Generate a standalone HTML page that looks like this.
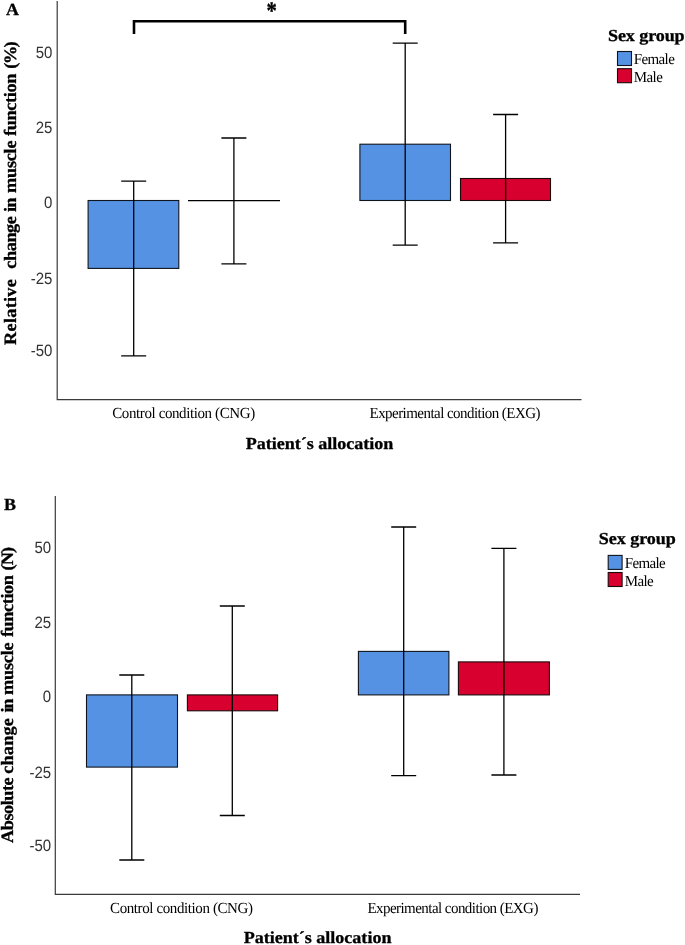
<!DOCTYPE html>
<html lang="en">
<head>
<meta charset="utf-8">
<title>Change in muscle function by allocation and sex group</title>
<style>
html,body{margin:0;padding:0;background:#fff;}
body{width:685px;height:945px;overflow:hidden;}
svg{display:block;}
text{text-rendering:geometricPrecision;}
.ser{font-family:"Liberation Serif",serif;fill:#000;}
.b{font-weight:bold;stroke:#000;stroke-width:0.3px;}
.tick{font-family:"Liberation Sans",sans-serif;font-size:15px;fill:#333;text-anchor:end;}
.ax{stroke:#3a3a3a;stroke-width:1.2;fill:none;}
.eb{stroke:#000;stroke-width:1.3;fill:none;}
.fb{fill:#5592e4;stroke:#10141c;stroke-width:1.1;}
.mb{fill:#d7002f;stroke:#1a0a0c;stroke-width:1.1;}
.br{stroke:#000;stroke-width:2.6;fill:none;stroke-linejoin:miter;}
</style>
</head>
<body>
<svg width="685" height="945" viewBox="0 0 685 945">
<rect width="685" height="945" fill="#fff"/>

<!-- ================= Panel A ================= -->
<g id="panelA">
<text class="ser b" font-size="17" transform="translate(6 15.4) scale(1.055 1)">A</text>
<text class="ser b" font-size="17.4" transform="translate(15.5 0) rotate(-90) scale(1.048 1)"><tspan x="-329.1" style="letter-spacing:0.27px">Relative</tspan> <tspan x="-256.39" style="letter-spacing:-0.4px">change</tspan> <tspan x="-202.29" style="letter-spacing:-0.67px">in</tspan> <tspan x="-184.16" style="letter-spacing:-0.21px">muscle</tspan> <tspan x="-129.77" style="letter-spacing:-0.33px">function</tspan> <tspan x="-65.55" style="letter-spacing:-1.43px">(%)</tspan></text>

<text class="tick" transform="translate(52.4 58.3) scale(1 1.09)">50</text>
<text class="tick" transform="translate(52.4 133.3) scale(1 1.09)">25</text>
<text class="tick" transform="translate(52.4 208.3) scale(1 1.09)">0</text>
<text class="tick" transform="translate(52.4 283.6) scale(1 1.09)">-25</text>
<text class="tick" transform="translate(52.4 356.4) scale(1 1.09)">-50</text>

<!-- bars -->
<rect class="fb" x="88.1" y="200.5" width="90.7" height="67.9"/>
<line class="eb" x1="188" y1="200.7" x2="280" y2="200.7"/>
<rect class="fb" x="359.9" y="144.2" width="90.6" height="56.3"/>
<rect class="mb" x="460.5" y="178.5" width="90" height="22"/>

<!-- error bars -->
<path class="eb" d="M133.7 181.1V355.9M121.2 181.1H146.2M121.2 355.9H146.2"/>
<path class="eb" d="M233.9 138V263.8M221.4 138H246.4M221.4 263.8H246.4"/>
<path class="eb" d="M405.2 43.1V245.1M392.7 43.1H417.7M392.7 245.1H417.7"/>
<path class="eb" d="M505.6 114.5V242.8M493.1 114.5H518.1M493.1 242.8H518.1"/>

<!-- axes -->
<path class="ax" d="M57.2 1V399.65H581.5"/>

<!-- significance bracket -->
<path class="br" d="M134 34V21.2H405.2V34"/>
<text class="ser b" transform="translate(271.6 19.2) scale(1 1.22)" font-size="20.7" text-anchor="middle">*</text>

<text class="ser" transform="translate(183.7 418) scale(1 1.03)" font-size="15" text-anchor="middle" textLength="143" lengthAdjust="spacing">Control condition (CNG)</text>
<text class="ser" transform="translate(455 418) scale(1 1.03)" font-size="15" text-anchor="middle" textLength="171" lengthAdjust="spacing">Experimental condition (EXG)</text>
<text class="ser b" transform="translate(319.5 448.6) scale(1.075 1)" font-size="16.8" text-anchor="middle" textLength="137.4" lengthAdjust="spacing">Patient´s allocation</text>

<!-- legend -->
<text class="ser b" transform="translate(608 40.6) scale(1.075 1)" font-size="16.8" textLength="71.3" lengthAdjust="spacing">Sex group</text>
<rect class="fb" x="617.5" y="51.5" width="14" height="14"/>
<rect class="mb" x="617.5" y="68.7" width="14" height="14"/>
<text class="ser" transform="translate(633.8 63.8) scale(1 1.03)" font-size="15" textLength="41" lengthAdjust="spacing">Female</text>
<text class="ser" transform="translate(633.8 81.9) scale(1 1.03)" font-size="15" textLength="29" lengthAdjust="spacing">Male</text>
</g>

<!-- ================= Panel B ================= -->
<g id="panelB">
<text class="ser b" font-size="17" transform="translate(4.1 509.6) scale(1.055 1)">B</text>
<text class="ser b" font-size="17.4" transform="translate(12.5 0) rotate(-90) scale(1.048 1)"><tspan x="-804.29" style="letter-spacing:-0.46px">Absolute</tspan> <tspan x="-738.36" style="letter-spacing:0.19px">change</tspan> <tspan x="-679.87" style="letter-spacing:-1.15px">in</tspan> <tspan x="-663.07" style="letter-spacing:-0.23px">muscle</tspan> <tspan x="-607.92" style="letter-spacing:-0.38px">function</tspan> <tspan x="-544.37" style="letter-spacing:-0.86px">(N)</tspan></text>

<text class="tick" transform="translate(51.2 552.5) scale(1 1.09)">50</text>
<text class="tick" transform="translate(51.2 627.7) scale(1 1.09)">25</text>
<text class="tick" transform="translate(51.2 702.2) scale(1 1.09)">0</text>
<text class="tick" transform="translate(51.2 777.5) scale(1 1.09)">-25</text>
<text class="tick" transform="translate(51.2 851.4) scale(1 1.09)">-50</text>

<rect class="fb" x="86.5" y="694.9" width="91" height="72.2"/>
<rect class="mb" x="187.4" y="694.9" width="90.2" height="15.9"/>
<rect class="fb" x="358.4" y="651.4" width="90.5" height="43.5"/>
<rect class="mb" x="458.4" y="661.9" width="91" height="33"/>

<path class="eb" d="M131.8 675V860M119.3 675H144.3M119.3 860H144.3"/>
<path class="eb" d="M232.3 606V815.5M219.8 606H244.8M219.8 815.5H244.8"/>
<path class="eb" d="M403.7 527V775.7M391.2 527H416.2M391.2 775.7H416.2"/>
<path class="eb" d="M503.9 548.3V775M491.4 548.3H516.4M491.4 775H516.4"/>

<path class="ax" d="M55.3 496V894.3H580"/>

<text class="ser" transform="translate(181.5 913) scale(1 1.03)" font-size="15" text-anchor="middle" textLength="143" lengthAdjust="spacing">Control condition (CNG)</text>
<text class="ser" transform="translate(452.9 913) scale(1 1.03)" font-size="15" text-anchor="middle" textLength="171" lengthAdjust="spacing">Experimental condition (EXG)</text>
<text class="ser b" transform="translate(317.6 943) scale(1.075 1)" font-size="16.8" text-anchor="middle" textLength="137.4" lengthAdjust="spacing">Patient´s allocation</text>

<text class="ser b" transform="translate(598.8 544) scale(1.075 1)" font-size="16.8" textLength="71.6" lengthAdjust="spacing">Sex group</text>
<rect class="fb" x="608.2" y="555.4" width="13.9" height="14"/>
<rect class="mb" x="608.2" y="572.5" width="13.9" height="14"/>
<text class="ser" transform="translate(624.7 567.6) scale(1 1.03)" font-size="15" textLength="41" lengthAdjust="spacing">Female</text>
<text class="ser" transform="translate(624.7 585.8) scale(1 1.03)" font-size="15" textLength="29" lengthAdjust="spacing">Male</text>
</g>
</svg>
</body>
</html>
